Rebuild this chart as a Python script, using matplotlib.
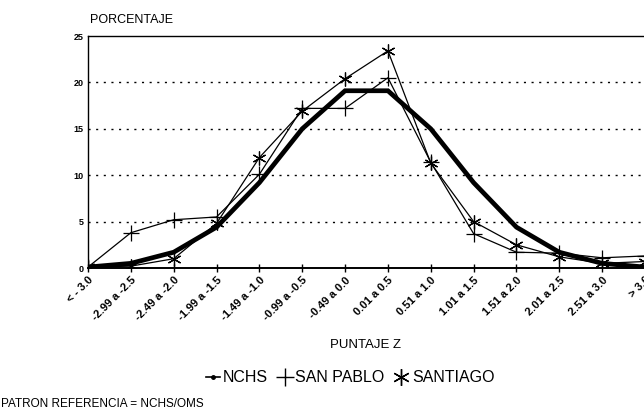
import numpy as np
import matplotlib.pyplot as plt
from matplotlib.lines import Line2D

plt.rcParams['font.family'] = ['Liberation Sans', 'DejaVu Sans']

# categories (puntaje Z)
categorias = ['< - 3.0', '-2.99 a -2.5', '-2.49 a -2.0', '-1.99 a -1.5',
              '-1.49 a -1.0', '-0.99 a -0.5', '-0.49 a 0.0', '0.01 a 0.5',
              '0.51 a 1.0', '1.01 a 1.5', '1.51 a 2.0', '2.01 a 2.5',
              '2.51 a 3.0', '> 3.0']

# porcentajes
nchs = [0.1, 0.5, 1.7, 4.4, 9.2, 15.0, 19.1, 19.1, 15.0, 9.2, 4.4, 1.7, 0.5, 0.1]
san_pablo = [0.1, 3.8, 5.2, 5.5, 10.1, 17.2, 17.2, 20.5, 11.4, 3.7, 1.7, 1.6, 1.1, 1.3]
santiago = [0.1, 0.2, 1.0, 4.8, 11.9, 16.9, 20.4, 23.4, 11.3, 5.0, 2.5, 1.2, 0.5, 0.7]

yticks = [0, 5, 10, 15, 20, 25]

W, H = 644, 413
fig = plt.figure(figsize=(W / 100, H / 100), dpi=100)
ax = fig.add_axes([88 / W, 1 - 268 / H, 557 / W, 232 / H])

x = np.arange(len(categorias))
star = (6, 2, 0)

ax.plot(x, nchs, color='black', lw=3.4, solid_joinstyle='miter', zorder=3)
ax.plot(x, san_pablo, color='black', lw=0.9, marker='+', ms=11, mew=0.9, zorder=4)
ax.plot(x, santiago, color='black', lw=0.9, marker=star, ms=10, mew=0.9, zorder=4)

ax.set_xlim(0, 13)
ax.set_ylim(0, 25)
ax.set_yticks(yticks)
ax.set_yticklabels([str(v) for v in yticks], fontsize=6.5, fontweight='bold')
ax.set_xticks(x)
ax.set_xticklabels(categorias, rotation=45, ha='right', va='top',
                   rotation_mode='anchor', fontsize=8, fontweight='bold')
ax.tick_params(axis='x', direction='inout', length=6, width=1, pad=2)
ax.tick_params(axis='y', length=0, pad=3)

for v in yticks[1:-1]:
    ax.axhline(v, color='black', lw=1, ls=(0, (1.5, 4)), zorder=1)

for s in ['left', 'bottom', 'top']:
    ax.spines[s].set_linewidth(1.0)
ax.spines['bottom'].set_linewidth(1.4)
ax.spines['right'].set_visible(False)

fig.text(90 / W, 1 - 20 / H, 'PORCENTAJE', fontsize=9, va='center', ha='left')
fig.text(365 / W, 1 - 345 / H, 'PUNTAJE Z', fontsize=9.5, va='center', ha='center')
fig.text(1 / W, 1 - 404 / H, 'PATRON REFERENCIA = NCHS/OMS', fontsize=8.5, va='center', ha='left')

handles = [
    Line2D([], [], color='black', lw=1.2, marker='o', ms=2.5),
    Line2D([], [], color='black', lw=0, marker='+', ms=13, mew=1),
    Line2D([], [], color='black', lw=0, marker=star, ms=12, mew=1),
]
fig.legend(handles, ['NCHS', 'SAN PABLO', 'SANTIAGO'], loc='center',
           bbox_to_anchor=(350 / W, 1 - 378 / H), ncol=3, frameon=False,
           fontsize=11.5, handlelength=0.9, handletextpad=0.2, columnspacing=0.6)

fig.savefig('out.png', dpi=100)
